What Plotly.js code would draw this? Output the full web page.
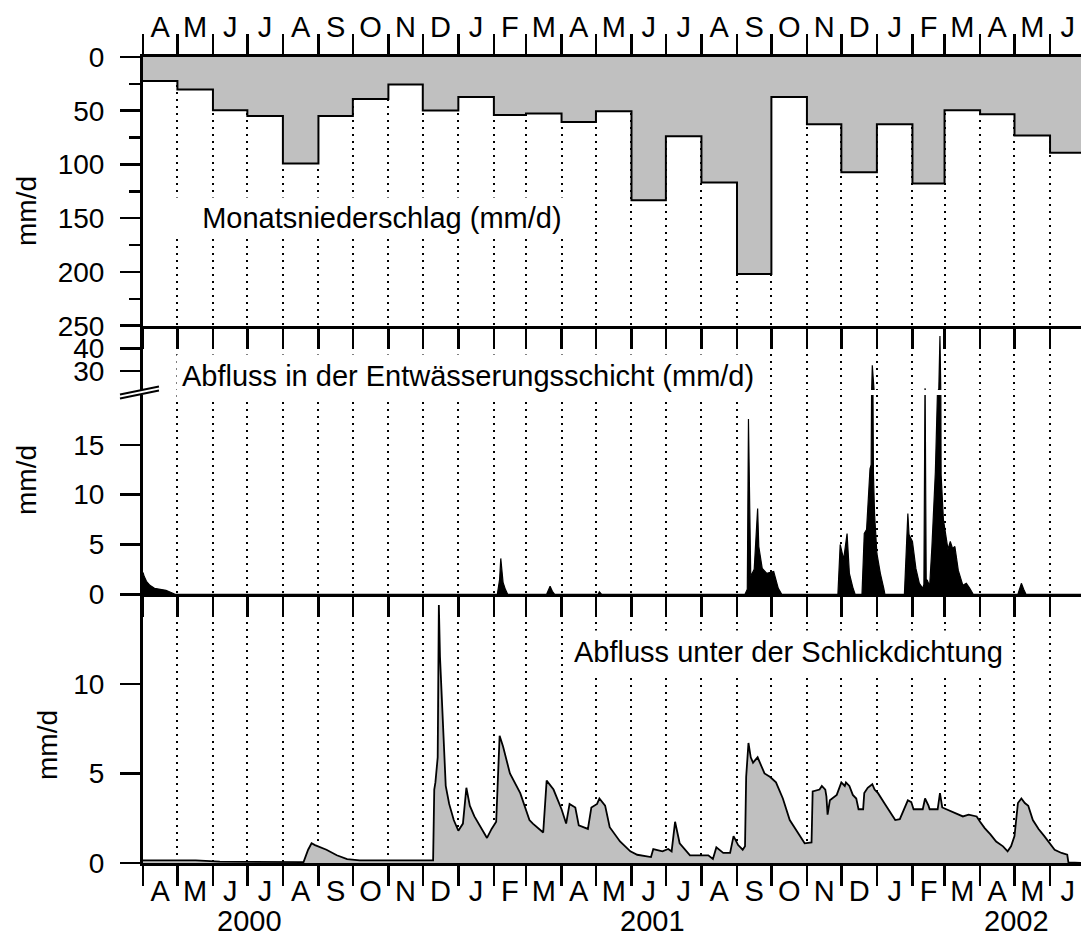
<!DOCTYPE html>
<html><head><meta charset="utf-8">
<script src="https://cdn.plot.ly/plotly-3.0.1.min.js"></script>
<style>body{margin:0;background:#fff}#chart{width:1082px;height:938px}</style>
</head><body><div id="chart"></div>
<script>
// ---------- data ----------
const precipMonths = ['2000-04-01','2000-05-01','2000-06-01','2000-07-01','2000-08-01','2000-09-01','2000-10-01','2000-11-01','2000-12-01',
  '2001-01-01','2001-02-01','2001-03-01','2001-04-01','2001-05-01','2001-06-01','2001-07-01','2001-08-01','2001-09-01','2001-10-01','2001-11-01','2001-12-01',
  '2002-01-01','2002-02-01','2002-03-01','2002-04-01','2002-05-01','2002-06-01'];
const precipValues = [22.3,30.3,49.5,54.8,99.1,54.8,39,25.7,49.8,
  37.2,53.9,52.6,60.4,50.5,133.2,73.7,116.7,202,37.2,62.5,107.2,
  62.5,117.7,49.5,53.3,73,89.2];
const precipEnd = '2002-07-01';

const drainDates = ['2000-04-01','2000-04-02','2000-04-04','2000-04-07','2000-04-11','2000-04-16','2000-04-21','2000-04-25','2000-04-29',
  '2001-02-04','2001-02-06','2001-02-07','2001-02-08','2001-02-09','2001-02-11','2001-02-13',
  '2001-03-19','2001-03-21','2001-03-22','2001-03-24','2001-03-26',
  '2001-05-03','2001-05-04','2001-05-06',
  '2001-09-08','2001-09-10','2001-09-11','2001-09-13','2001-09-16','2001-09-19','2001-09-20','2001-09-23','2001-09-27','2001-10-03','2001-10-07','2001-10-10',
  '2001-11-28','2001-11-30','2001-12-03','2001-12-06','2001-12-08','2001-12-11','2001-12-13',
  '2001-12-19','2001-12-21','2001-12-23','2001-12-26','2001-12-27','2001-12-28','2001-12-29','2001-12-30','2002-01-01','2002-01-04','2002-01-07','2002-01-08',
  '2002-01-25','2002-01-28','2002-01-29','2002-02-01','2002-02-04','2002-02-07','2002-02-10','2002-02-11','2002-02-12','2002-02-13','2002-02-14','2002-02-16',
  '2002-02-18','2002-02-21','2002-02-23','2002-02-24','2002-02-25','2002-02-26','2002-02-28','2002-03-04','2002-03-06','2002-03-08','2002-03-10','2002-03-13','2002-03-17','2002-03-20','2002-03-23','2002-03-26',
  '2002-05-04','2002-05-06','2002-05-07','2002-05-09','2002-05-11','2002-06-28'];
const drainValues = [2.2,1.8,1.3,0.9,0.6,0.5,0.4,0.2,0,
  0,1.5,3.6,2.4,1.2,0.5,0,
  0,0.6,0.8,0.3,0,
  0,0.25,0,
  0,0.5,17.6,1.8,2.5,8.6,4.8,2.6,2.1,2.3,0.6,0,
  0,5.0,3.5,6.1,2.1,0.7,0,
  0,6.1,6.5,12.6,13.0,32.5,12.0,8.0,4.1,2.1,0.6,0,
  0,8.1,6.0,5.3,2.6,1.1,0.6,1.0,22.4,1.5,1.4,0.8,
  4.8,12.3,21,22,45.4,12,7.5,4.5,5.3,4.6,4.8,2.4,0.9,1.1,0.6,0,
  0,0.9,1.1,0.5,0,0];

const sealDates = ['2000-04-01','2000-05-17','2000-06-07','2000-07-15','2000-08-19','2000-08-23','2000-08-26','2000-08-29','2000-09-08','2000-09-17','2000-09-26','2000-10-07',
  '2000-12-10','2000-12-11','2000-12-12','2000-12-14','2000-12-15','2000-12-16','2000-12-18','2000-12-21','2000-12-24','2000-12-28',
  '2001-01-01','2001-01-05','2001-01-08','2001-01-11','2001-01-15','2001-01-21','2001-01-26','2001-01-30','2001-02-03','2001-02-06','2001-02-09','2001-02-15','2001-02-24',
  '2001-03-04','2001-03-07','2001-03-16','2001-03-19','2001-03-25','2001-04-01','2001-04-05','2001-04-08','2001-04-13','2001-04-16','2001-04-24','2001-04-27',
  '2001-05-02','2001-05-04','2001-05-09','2001-05-13','2001-05-22','2001-05-31','2001-06-06','2001-06-18','2001-06-20','2001-06-28','2001-07-03','2001-07-06','2001-07-09','2001-07-13','2001-07-22',
  '2001-08-07','2001-08-11','2001-08-14','2001-08-20','2001-08-26','2001-08-29','2001-09-02','2001-09-06','2001-09-08','2001-09-09','2001-09-11','2001-09-13','2001-09-15','2001-09-19','2001-09-25','2001-09-30',
  '2001-10-05','2001-10-11','2001-10-17','2001-10-23','2001-10-30','2001-11-05','2001-11-06','2001-11-12','2001-11-14','2001-11-17','2001-11-18','2001-11-19','2001-11-21','2001-11-27','2001-11-30',
  '2001-12-01','2001-12-04','2001-12-05','2001-12-08','2001-12-11','2001-12-14','2001-12-16','2001-12-20','2001-12-21','2001-12-24','2001-12-28','2001-12-30',
  '2002-01-02','2002-01-08','2002-01-12','2002-01-17','2002-01-21','2002-01-25','2002-01-28','2002-01-31','2002-02-02','2002-02-10','2002-02-12','2002-02-15','2002-02-16','2002-02-23','2002-02-25','2002-02-27',
  '2002-03-06','2002-03-11','2002-03-17','2002-03-22','2002-03-29','2002-04-01','2002-04-05','2002-04-10','2002-04-15','2002-04-21','2002-04-25','2002-04-28',
  '2002-05-01','2002-05-04','2002-05-07','2002-05-10','2002-05-13','2002-05-17','2002-05-22','2002-05-27','2002-06-01','2002-06-05','2002-06-11','2002-06-16','2002-06-17','2002-06-28'];
const sealValues = [0.15,0.15,0.08,0.05,0.05,0.74,1.1,1.0,0.74,0.43,0.22,0.15,
  0.15,4.1,4.5,5.9,14.4,11.5,8.7,4.3,3.3,2.4,
  1.8,2.2,4.2,3.2,2.6,1.9,1.4,1.9,2.3,7.1,6.5,5.0,3.9,
  2.4,2.2,1.7,4.6,4.1,3.0,2.2,3.3,3.1,2.1,1.9,3.1,
  3.3,3.6,3.2,2.0,1.2,0.65,0.46,0.33,0.78,0.65,0.78,0.65,2.3,1.1,0.43,
  0.43,0.22,0.87,0.56,0.56,1.5,1.0,0.74,0.93,4.8,6.7,5.9,5.6,5.9,5.0,4.8,
  4.5,3.6,2.4,1.8,1.1,1.15,4.0,4.1,4.3,4.1,3.7,2.7,3.5,3.8,4.3,
  4.5,4.3,4.5,4.3,3.8,3.6,3.0,3.0,3.9,4.2,4.4,4.1,
  3.9,3.3,2.9,2.4,2.45,3.0,3.5,3.4,3.0,3.0,3.6,3.2,3.0,3.0,3.9,3.1,
  2.9,2.8,2.6,2.7,2.6,2.3,1.95,1.6,1.2,0.93,0.65,0.93,
  1.5,3.35,3.6,3.35,3.2,2.4,1.9,1.5,1.1,0.74,0.56,0.46,0.04,0];

const precipTicks = [0,50,100,150,200,250];
const drainTicksLow = [0,5,10,15];
const drainTicksHigh = [30,40];
const sealTicks = [0,5,10];
const monthAbbr = ['Jan','Feb','Mar','Apr','May','Jun','Jul','Aug','Sep','Oct','Nov','Dec'];
const monthLetters = ['J','F','M','A','M','J','J','A','S','O','N','D'];
const yearLabels = ['2000','2001','2002'];
const panelTitles = ['Monatsniederschlag (mm/d)','Abfluss in der Entwässerungsschicht (mm/d)','Abfluss unter der Schlickdichtung'];
const unitLabel = 'mm/d';

// ---------- layout helpers ----------
const W=1082, H=938, L=143, R=1, T=57, B=75;
const fy = p => (H - B - p) / (H - T - B);
const fx = p => (p - L) / (W - L - R);
const FONT = 'Liberation Sans, Arial, Helvetica, sans-serif';
const xr = ['2000-04-01','2002-06-28'];
const alias = {}; monthAbbr.forEach((m,i)=>{alias[m]=monthLetters[i];});

const xBase = {type:'date', range:xr, autorange:false, tickmode:'linear', dtick:'M1', tick0:'2000-04-01',
  tickformat:'%b', labelalias:alias, ticklabelmode:'period', layer:'above traces', zeroline:false,
  linecolor:'#000', tickcolor:'#000', ticklen:20, tickwidth:2.5,
  tickfont:{family:FONT,size:29,color:'#000'},
  showgrid:true, gridcolor:'#000', gridwidth:2, griddash:'2px,5px', fixedrange:true};
const yBase = {zeroline:false, showgrid:false, showline:true, linewidth:3, linecolor:'#000',
  ticks:'outside', ticklen:20, tickwidth:2.5, tickcolor:'#000', tickmode:'array',
  tickfont:{family:FONT,size:28,color:'#000'}, ticklabelstandoff:10, layer:'above traces', fixedrange:true};

const traces = [
  {x:precipMonths.concat([precipEnd]), y:precipValues.concat([precipValues[precipValues.length-1]]),
   xaxis:'x', yaxis:'y', type:'scatter', mode:'lines', line:{shape:'hv', color:'#000', width:2},
   fill:'tozeroy', fillcolor:'#c0c0c0', hoverinfo:'skip'},
  {x:drainDates, y:drainValues, xaxis:'x2', yaxis:'y2', type:'scatter', mode:'lines',
   line:{color:'#000', width:1.2}, fill:'tozeroy', fillcolor:'#000', hoverinfo:'skip'},
  {x:drainDates, y:drainValues, xaxis:'x3', yaxis:'y3', type:'scatter', mode:'lines',
   line:{color:'#000', width:1.2}, fill:'tozeroy', fillcolor:'#000', hoverinfo:'skip'},
  {x:sealDates, y:sealValues, xaxis:'x4', yaxis:'y4', type:'scatter', mode:'lines',
   line:{color:'#000', width:1.8}, fill:'tozeroy', fillcolor:'#c0c0c0', hoverinfo:'skip'}
];

const annFont = {family:FONT, size:29, color:'#000'};
const unitFont = {family:FONT, size:28, color:'#000'};
const ann = (o) => Object.assign({showarrow:false, xanchor:'center', yanchor:'middle'}, o);
const layout = {
  width:W, height:H, margin:{l:L, r:R, t:T, b:B, pad:0},
  paper_bgcolor:'#fff', plot_bgcolor:'rgba(0,0,0,0)', showlegend:false,
  xaxis: Object.assign({}, xBase, {anchor:'y', side:'top', showline:true, linewidth:3, ticks:'outside', mirror:'ticks', showticklabels:true, ticklabelstandoff:-15}),
  xaxis2: Object.assign({}, xBase, {anchor:'y2', side:'bottom', showline:true, linewidth:3, ticks:'outside', showticklabels:false}),
  xaxis3: Object.assign({}, xBase, {anchor:'y3', showline:false, ticks:'', showticklabels:false}),
  xaxis4: Object.assign({}, xBase, {anchor:'y4', side:'bottom', showline:true, linewidth:3, ticks:'outside', showticklabels:true, ticklabelstandoff:-20}),
  yaxis: Object.assign({}, yBase, {anchor:'x', domain:[fy(325.7),1], range:[250,0], tickvals:precipTicks,
    minor:{tickmode:'linear', tick0:0, dtick:25, ticks:'outside', ticklen:11, tickwidth:2.5, tickcolor:'#000', showgrid:false}}),
  yaxis3: Object.assign({}, yBase, {anchor:'x3', domain:[fy(390), fy(325.7)], range:[21.6,50], tickvals:drainTicksHigh}),
  yaxis2: Object.assign({}, yBase, {anchor:'x2', domain:[fy(594.3), fy(395)], range:[0,20], tickvals:drainTicksLow}),
  yaxis4: Object.assign({}, yBase, {anchor:'x4', domain:[0, fy(594.3)], range:[0,15], tickvals:sealTicks}),
  shapes:[
    {type:'path', xref:'paper', yref:'paper', layer:'above',
     path:`M ${fx(120)} ${fy(394.5)} L ${fx(159)} ${fy(386.5)} L ${fx(159)} ${fy(390.5)} L ${fx(120)} ${fy(398.5)} Z`,
     fillcolor:'#fff', line:{width:0}},
    {type:'line', xref:'paper', yref:'paper', x0:fx(120), y0:fy(394.5), x1:fx(159), y1:fy(386.5), line:{color:'#000', width:2}},
    {type:'line', xref:'paper', yref:'paper', x0:fx(120), y0:fy(398.5), x1:fx(159), y1:fy(390.5), line:{color:'#000', width:2}}
  ],
  annotations:[
    ann({text:'\u00a0\u00a0\u00a0' + panelTitles[0], xref:'x', yref:'y', x:'2000-10-16', y:150, font:annFont, bgcolor:'#fff', borderpad:4}),
    ann({text:panelTitles[1], xref:'x2', yref:'paper', x:'2001-01-09', y:fy(376), font:annFont, bgcolor:'#fff', borderpad:5}),
    ann({text:panelTitles[2], xref:'x4', yref:'y4', x:'2001-10-16', y:11.76, font:annFont, bgcolor:'#fff', borderpad:5}),
    ann({text:unitLabel, xref:'paper', yref:'paper', x:fx(26), y:fy(211), textangle:-90, font:unitFont}),
    ann({text:unitLabel, xref:'paper', yref:'paper', x:fx(26), y:fy(480), textangle:-90, font:unitFont}),
    ann({text:unitLabel, xref:'paper', yref:'paper', x:fx(47), y:fy(745), textangle:-90, font:unitFont}),
    ann({text:yearLabels[0], xref:'x4', yref:'paper', x:'2000-07-03', y:fy(921), font:annFont}),
    ann({text:yearLabels[1], xref:'x4', yref:'paper', x:'2001-06-19', y:fy(921), font:annFont}),
    ann({text:yearLabels[2], xref:'x4', yref:'paper', x:'2002-05-03', y:fy(921), font:annFont})
  ]
};
Plotly.newPlot('chart', traces, layout, {staticPlot:true, displayModeBar:false});
</script></body></html>
